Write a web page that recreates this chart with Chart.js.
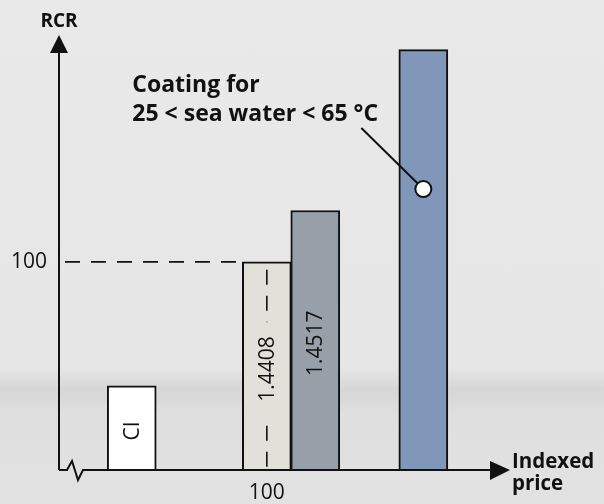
<!DOCTYPE html>
<html>
<head>
<meta charset="utf-8">
<title>RCR vs indexed price</title>
<script src="https://cdn.jsdelivr.net/npm/chart.js@4.4.1/dist/chart.umd.min.js"></script>
<style>
html, body { margin: 0; padding: 0; }
body {
	width: 604px; height: 504px; overflow: hidden;
	background: linear-gradient(to bottom, #e9e9e9 0%, #e6e6e6 73%, #d7d7d7 77%, #d9d9d9 79%, #dfdfdf 82%, #e2e2e2 100%);
}
#wrap { position: relative; width: 604px; height: 504px; }
</style>
</head>
<body>
<div id="wrap"><canvas id="chart"></canvas></div>
<script>
"use strict";

// values
const categories = ['CI', '1.4408', '1.4517', 'Coating'];
const barLabels = ['CI', '1.4408', '1.4517', ''];
const indexedPrice = [35, 100, 123.3, 175.3];
const rcr = [40.5, 100, 124.7, 202];
const barColours = ['#ffffff', '#e1e1d9', '#979fa8', '#8097b9'];
const yTicks = [100];
const xTicks = [100];
const referenceValue = 100;
const calloutLines = ['Coating for', '25 < sea water < 65 °C'];
const calloutRcr = 135;
const yTitle = 'RCR';
const xTitle = ['Indexed', 'price'];

const FONT = "'Open Sans', 'Noto Sans', sans-serif";
const INK = '#111111';

function dashedLine(ctx, x1, y1, x2, y2, dash) {
	ctx.save();
	ctx.strokeStyle = INK;
	ctx.lineWidth = 1.6;
	ctx.setLineDash(dash);
	ctx.beginPath();
	ctx.moveTo(x1, y1);
	ctx.lineTo(x2, y2);
	ctx.stroke();
	ctx.restore();
}

const decor = {
	id: 'decor',
	beforeDatasetsDraw(chart) {
		const { ctx, chartArea: a, scales: { y } } = chart;
		const bar = chart.getDatasetMeta(0).data[1];
		const py = y.getPixelForValue(referenceValue);
		dashedLine(ctx, a.left + 6, py, bar.x - bar.width / 2, py, [15, 11]);
	},
	afterDatasetsDraw(chart) {
		const { ctx, chartArea: a, scales: { x, y } } = chart;
		const bars = chart.getDatasetMeta(0).data;

		// reference line inside the 100/100 bar
		const px = x.getPixelForValue(referenceValue);
		dashedLine(ctx, px, y.getPixelForValue(referenceValue) + 8, px, a.bottom, [15, 11]);

		// rotated labels in the bars
		ctx.save();
		ctx.font = '500 21px ' + FONT;
		ctx.textAlign = 'center';
		ctx.textBaseline = 'middle';
		bars.forEach(function (b, i) {
			const txt = barLabels[i];
			if (!txt) { return; }
			const cy = (b.y + b.base) / 2 + 3;
			const w = ctx.measureText(txt).width;
			ctx.save();
			ctx.translate(b.x, cy);
			ctx.rotate(-Math.PI / 2);
			if (i === 1) {
				ctx.fillStyle = barColours[i];
				ctx.fillRect(-w / 2 - 14, -10, w + 28, 20);
			}
			ctx.fillStyle = INK;
			ctx.fillText(txt, 0, 1);
			ctx.restore();
		});
		ctx.restore();

		// axes with arrow heads
		ctx.save();
		ctx.strokeStyle = INK;
		ctx.fillStyle = INK;
		ctx.lineWidth = 2;
		ctx.beginPath();
		ctx.moveTo(a.left, a.bottom);
		ctx.lineTo(a.left, a.top + 16);
		ctx.moveTo(a.left, a.bottom);
		ctx.lineTo(a.left + 8, a.bottom);
		ctx.lineTo(a.left + 13, a.bottom - 9);
		ctx.lineTo(a.left + 19, a.bottom + 10);
		ctx.lineTo(a.left + 24, a.bottom);
		ctx.lineTo(a.right - 18, a.bottom);
		ctx.stroke();
		ctx.beginPath();
		ctx.moveTo(a.left, a.top);
		ctx.lineTo(a.left - 9, a.top + 18);
		ctx.lineTo(a.left + 9, a.top + 18);
		ctx.closePath();
		ctx.fill();
		ctx.beginPath();
		ctx.moveTo(a.right, a.bottom);
		ctx.lineTo(a.right - 20, a.bottom - 9);
		ctx.lineTo(a.right - 20, a.bottom + 10);
		ctx.closePath();
		ctx.fill();

		// axis titles
		ctx.font = 'bold 19px ' + FONT;
		ctx.textAlign = 'center';
		ctx.textBaseline = 'alphabetic';
		ctx.fillText(yTitle, a.left, 27);
		ctx.font = 'bold 20.5px ' + FONT;
		ctx.textAlign = 'left';
		ctx.fillText(xTitle[0], a.right + 2, a.bottom - 2);
		ctx.fillText(xTitle[1], a.right + 2, a.bottom + 20);

		// callout on the coating bar
		const last = bars[bars.length - 1];
		const cx = last.x;
		const cy = y.getPixelForValue(calloutRcr);
		ctx.beginPath();
		ctx.moveTo(cx - 62, cy - 61);
		ctx.lineTo(cx, cy);
		ctx.stroke();
		ctx.beginPath();
		ctx.arc(cx, cy, 8, 0, Math.PI * 2);
		ctx.fillStyle = '#ffffff';
		ctx.fill();
		ctx.stroke();
		ctx.fillStyle = INK;
		ctx.font = 'bold 23px ' + FONT;
		ctx.fillText(calloutLines[0], cx - 291, cy - 97);
		ctx.fillText(calloutLines[1], cx - 291, cy - 68);
		ctx.restore();
	}
};

new Chart(document.getElementById('chart'), {
	type: 'bar',
	data: {
		labels: categories,
		datasets: [{
			data: indexedPrice.map(function (p, i) { return { x: p, y: rcr[i] }; }),
			backgroundColor: barColours,
			borderColor: INK,
			borderWidth: 2,
			borderSkipped: 'bottom',
			barThickness: 49
		}]
	},
	options: {
		responsive: true,
		maintainAspectRatio: false,
		animation: false,
		layout: { padding: { top: 35, right: 94, left: 0, bottom: 0 } },
		plugins: { legend: { display: false }, tooltip: { enabled: false } },
		scales: {
			x: {
				type: 'linear', min: 0, max: 217, offset: false,
				afterFit: function (s) { s.height = 34; },
				afterBuildTicks: function (s) { s.ticks = xTicks.map(function (v) { return { value: v }; }); },
				grid: { display: false, drawTicks: false },
				border: { display: false },
				ticks: { color: INK, padding: 10, font: { family: FONT, size: 21, weight: '500' } }
			},
			y: {
				type: 'linear', min: 0, max: 209,
				afterFit: function (s) { s.width = 59; },
				afterBuildTicks: function (s) { s.ticks = yTicks.map(function (v) { return { value: v }; }); },
				grid: { display: false, drawTicks: false },
				border: { display: false },
				ticks: { color: INK, padding: 12, font: { family: FONT, size: 21, weight: '500' } }
			}
		}
	},
	plugins: [decor]
});
</script>
</body>
</html>
